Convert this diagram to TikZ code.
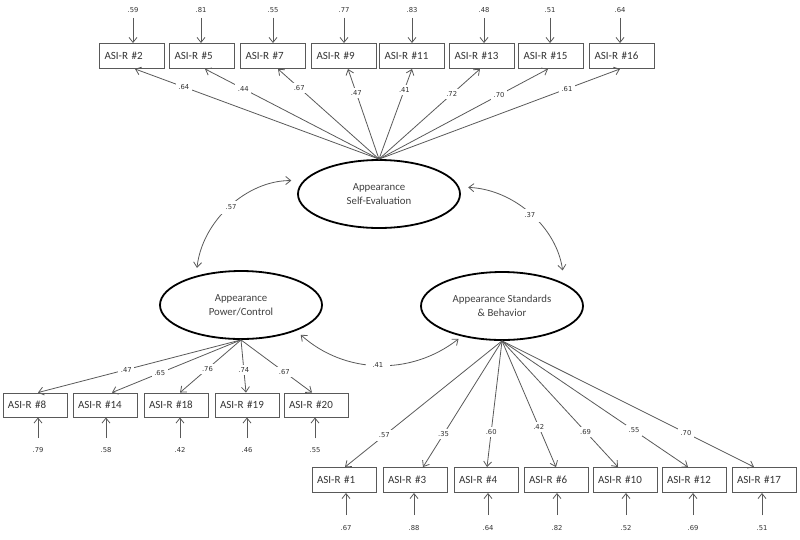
\documentclass[tikz,border=0pt]{standalone}
\usepackage{fontspec}
\setmainfont{Carlito}
\newfontfamily\numfont{DejaVu Sans}
\usetikzlibrary{arrows.meta,calc,shapes.geometric}
\begin{document}
\begin{tikzpicture}[x=1pt,y=1pt,
  ln/.style={draw=black!65, line width=0.8pt},
  arr/.style={ln, -{Straight Barb[length=5pt,width=8pt]}},
  darr/.style={ln, {Straight Barb[length=5pt,width=8pt]}-{Straight Barb[length=5pt,width=8pt]}},
  obs/.style={draw=black!65, line width=0.9pt, minimum height=25pt, text width=55pt,
    inner xsep=5pt, inner ysep=0pt, align=left, font=\fontsize{11}{12}\selectfont, text=black!80},
  lat/.style={ellipse, draw=black, line width=1.8pt, minimum width=162pt, minimum height=68pt,
    inner sep=0pt, align=center, font=\fontsize{10.8}{14}\selectfont, text=black!75},
  num/.style={font=\numfont\fontsize{6.8}{8}\selectfont, text=black!80, inner sep=1pt},
  lbl/.style={num, fill=white, inner sep=2.5pt},
  clbl/.style={num, fill=white, inner xsep=7pt, inner ysep=4pt}
]
\path[use as bounding box] (0,0) rectangle (800,-539);

% latent variables
\node[lat] (SE)  at (379,-194) {Appearance\\Self-Evaluation};
\node[lat] (PC)  at (241,-305) {Appearance\\Power/Control};
\node[lat] (ASB) at (502,-306) {Appearance Standards\\\& Behavior};

% top indicators
\foreach \n/\x in {2/132,5/202,7/273,9/344,11/412,13/482,15/551,16/622}
  \node[obs] (t\n) at (\x,-56) {ASI-R \#\n};
\foreach \n/\x/\v in {2/133/.59,5/201/.81,7/273/.55,9/344/.77,11/412/.83,13/484/.48,15/550/.51,16/620/.64}
  {\node[num] (et\n) at (\x,-10) {\v};
   \draw[arr, shorten <=4pt] (et\n.south) -- (et\n.south |- t\n.north);}

% bottom-left indicators
\foreach \n/\x in {8/35,14/105,18/176,19/247,20/316}
  \node[obs, text width=54pt, minimum height=24pt] (b\n) at (\x,-405) {ASI-R \#\n};
\foreach \n/\x/\v in {8/38/.79,14/106/.58,18/180/.42,19/247/.46,20/315/.55}
  {\node[num] (eb\n) at (\x,-450) {\v};
   \draw[arr, shorten <=8pt] (eb\n.north) -- (eb\n.north |- b\n.south);}

% bottom-right indicators
\foreach \n/\x in {1/344,3/415,4/486,6/556,10/625,12/694,17/764}
  \node[obs, text width=54pt] (b\n) at (\x,-480) {ASI-R \#\n};
\foreach \n/\x/\v in {1/346/.67,3/414/.88,4/488/.64,6/557/.82,10/626/.52,12/693/.69,17/762/.51}
  {\node[num] (eb\n) at (\x,-528) {\v};
   \draw[arr, shorten <=9pt] (eb\n.north) -- (eb\n.north |- b\n.south);}

% loadings: Self-Evaluation
\draw[arr] (SE.north) -- node[lbl,pos=0.80] {.64} ([xshift=3pt]t2.south);
\draw[arr] (SE.north) -- node[lbl,pos=0.78] {.44} ([xshift=3pt]t5.south);
\draw[arr] (SE.north) -- node[lbl,pos=0.79] {.67} ([xshift=5pt]t7.south);
\draw[arr] (SE.north) -- node[lbl,pos=0.73] {.47} ([xshift=4pt]t9.south);
\draw[arr] (SE.north) -- node[lbl,pos=0.77] {.41} (t11.south);
\draw[arr] (SE.north) -- node[lbl,pos=0.72] {.72} ([xshift=-2pt]t13.south);
\draw[arr] (SE.north) -- node[lbl,pos=0.71] {.70} ([xshift=-3pt]t15.south);
\draw[arr] (SE.north) -- node[lbl,pos=0.78] {.61} ([xshift=-2pt]t16.south);

% loadings: Power/Control
\draw[arr] (PC.south) -- node[lbl,pos=0.565] {.47} ([xshift=3pt]b8.north);
\draw[arr] (PC.south) -- node[lbl,pos=0.63] {.65} ([xshift=7pt]b14.north);
\draw[arr] (PC.south) -- node[lbl,pos=0.55] {.76} ([xshift=4pt]b18.north);
\draw[arr] (PC.south) -- node[lbl,pos=0.58] {.74} ([xshift=-1pt]b19.north);
\draw[arr] (PC.south) -- node[lbl,pos=0.61] {.67} ([xshift=-4pt]b20.north);

% loadings: Standards & Behavior
\draw[arr] (ASB.south) -- node[lbl,pos=0.75] {.57} ([xshift=1pt]b1.north);
\draw[arr] (ASB.south) -- node[lbl,pos=0.74] {.35} ([xshift=8pt]b3.north);
\draw[arr] (ASB.south) -- node[lbl,pos=0.72] {.60} ([xshift=1pt]b4.north);
\draw[arr] (ASB.south) -- node[lbl,pos=0.68] {.42} (b6.north);
\draw[arr] (ASB.south) -- node[lbl,pos=0.72] {.69} ([xshift=-7pt]b10.north);
\draw[arr] (ASB.south) -- node[lbl,pos=0.71] {.55} ([xshift=-6pt]b12.north);
\draw[arr] (ASB.south) -- node[lbl,pos=0.73] {.70} ([xshift=-10pt]b17.north);

% covariances
\draw[darr, shorten <=12pt, shorten >=8pt] (SE.170) to[bend right=42] node[clbl] {.57} (PC.147);
\draw[darr, shorten <=9pt, shorten >=13pt] (SE.5) to[bend left=40] node[clbl] {.37} (ASB.20);
\draw[darr, shorten <=6pt, shorten >=4pt] (PC.-25) to[bend right=40] node[clbl] {.41} (ASB.217);
\end{tikzpicture}
\end{document}
